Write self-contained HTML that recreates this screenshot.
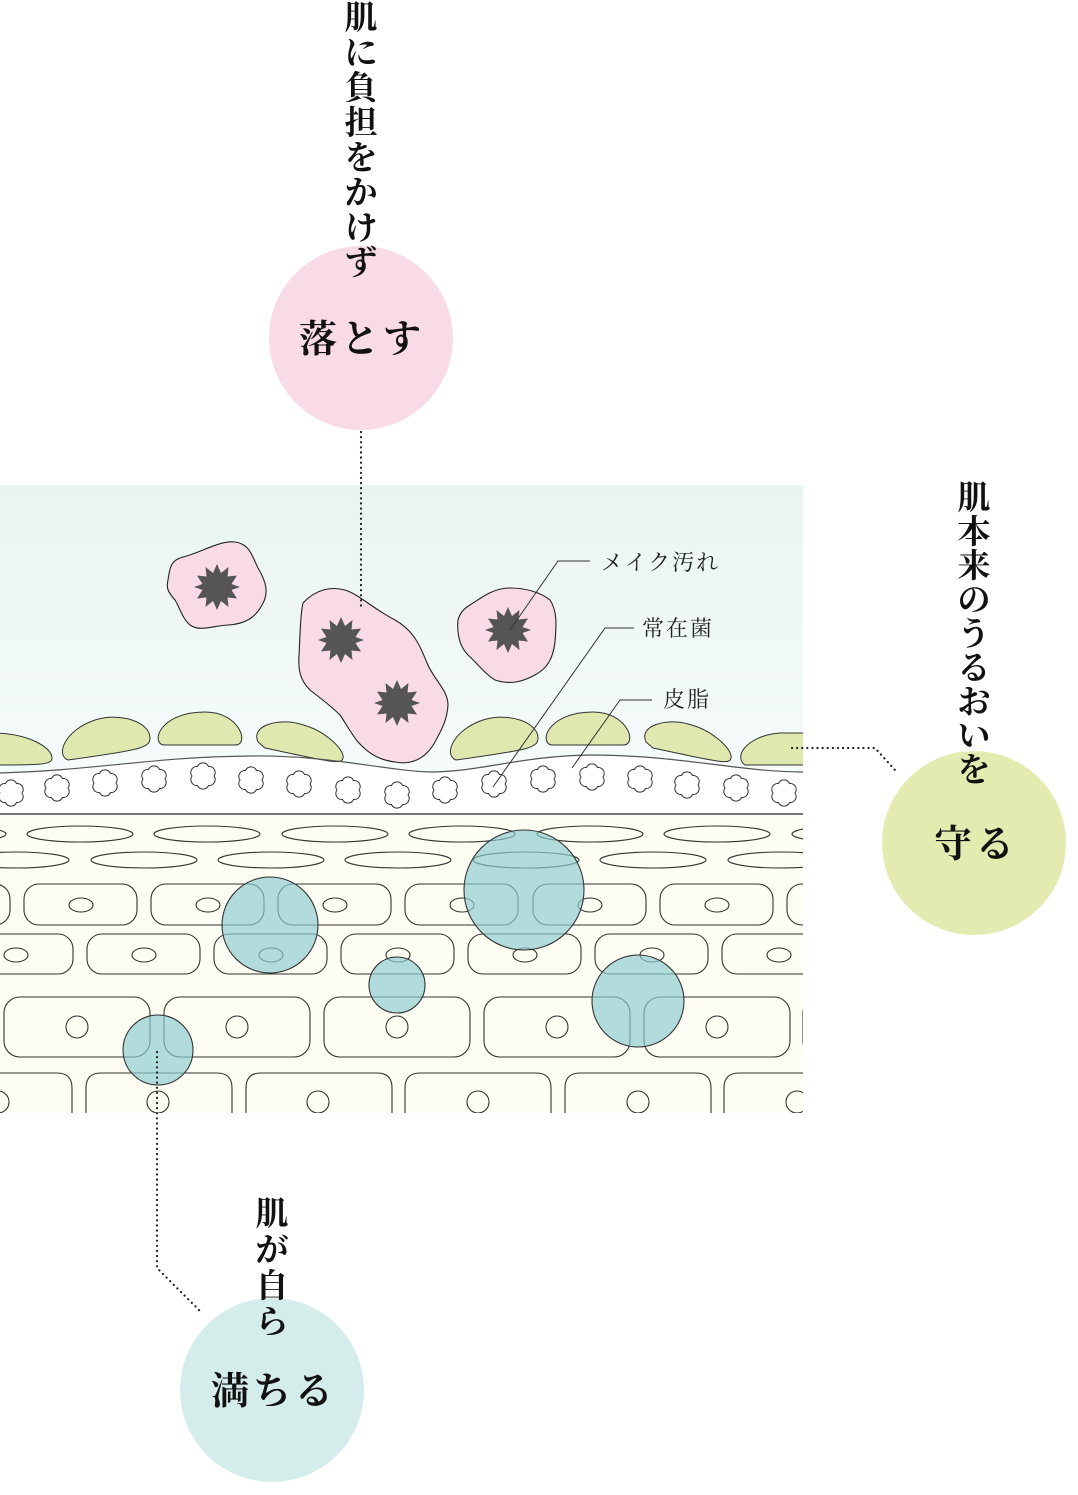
<!DOCTYPE html>
<html><head><meta charset="utf-8"><style>
html,body{margin:0;padding:0;background:#fff;}
svg{display:block;}
.v{font-family:"Liberation Serif","Noto Serif CJK JP","Noto Serif CJK SC",serif;font-weight:700;fill:#111;}
.l{font-family:"Liberation Serif","Noto Serif CJK JP","Noto Serif CJK SC",serif;fill:#222;font-size:22px;letter-spacing:2px;}
</style></head><body>
<svg width="1078" height="1495" viewBox="0 0 1078 1495" xmlns="http://www.w3.org/2000/svg">
<defs>
<linearGradient id="g" x1="0" y1="0" x2="0" y2="1">
<stop offset="0" stop-color="#e9f4f2"/><stop offset="1" stop-color="#f8fcfd"/>
</linearGradient>
<clipPath id="c"><rect x="0" y="485" width="803" height="628"/></clipPath>
<path id="b" d="M11,0 A6,6 0 0 1 5.5,9.5 A6,6 0 0 1 -5.5,9.5 A6,6 0 0 1 -11,0 A6,6 0 0 1 -5.5,-9.5 A6,6 0 0 1 5.5,-9.5 A6,6 0 0 1 11,0 Z" fill="#fff" stroke="#333" stroke-width="1"/>
<path id="s" d="M0,-23 L4,-14 L11.5,-20 L10.5,-10.5 L20,-11.5 L14.5,-3 L23,0 L14.5,3 L20,11.5 L10.5,10.5 L11.5,20 L4,14 L0,23 L-4,14 L-11.5,20 L-10.5,10.5 L-20,11.5 L-14.5,3 L-23,0 L-14.5,-3 L-20,-11.5 L-10.5,-10.5 L-11.5,-20 L-4,-14 Z" fill="#555"/>
</defs>
<g clip-path="url(#c)">
<rect x="0" y="485" width="803" height="330" fill="url(#g)"/>
<path d="M0,773 C100,770 150,757 250,756 C330,755 380,770 430,772 C480,772 520,756 590,755 C680,755 740,772 803,772 L803,814 L0,814 Z" fill="#fff"/>
<rect x="0" y="814" width="803" height="300" fill="#fefdf3"/>
<g fill="#dfe8ae" stroke="#333" stroke-width="1">
<path d="M-10,733 C30,733 52,748 52,758 C52,765 40,765 -10,765 Z"/>
<path d="M68,760 C55,755 65,730 95,720 C120,712 150,722 150,738 C150,748 140,750 68,760 Z"/>
<path d="M165,745 C150,745 158,712 205,712 C240,712 250,745 235,745 Z"/>
<path d="M258,742 C250,725 280,718 300,724 C325,730 345,750 343,758 C342,765 330,762 265,748 Z"/>
<path d="M456,760 C443,755 453,730 483,720 C508,712 538,722 538,738 C538,748 528,750 456,760 Z"/>
<path d="M553,745 C538,745 546,712 593,712 C628,712 638,745 623,745 Z"/>
<path d="M646,742 C638,725 668,718 688,724 C713,730 733,750 731,758 C730,765 718,762 653,748 Z"/>
<path d="M745,765 C732,755 750,735 780,733 L810,733 L810,765 Z"/>
</g>
<path d="M0,773 C100,770 150,757 250,756 C330,755 380,770 430,772 C480,772 520,756 590,755 C680,755 740,772 803,772" fill="none" stroke="#555" stroke-width="1.2"/>
<use href="#b" x="11" y="793"/><use href="#b" x="57" y="788"/><use href="#b" x="105" y="783"/><use href="#b" x="154" y="779"/><use href="#b" x="203" y="776"/><use href="#b" x="251" y="780"/><use href="#b" x="299" y="784"/><use href="#b" x="348" y="790"/><use href="#b" x="397" y="795"/><use href="#b" x="445" y="790"/><use href="#b" x="494" y="784"/><use href="#b" x="543" y="779"/><use href="#b" x="592" y="777"/><use href="#b" x="640" y="779"/><use href="#b" x="687" y="785"/><use href="#b" x="736" y="788"/><use href="#b" x="784" y="793"/>
<line x1="0" y1="814" x2="803" y2="814" stroke="#222" stroke-width="1.3"/>
<g fill="none" stroke="#333" stroke-width="1.1">
<ellipse cx="-47" cy="834" rx="53" ry="8"/><ellipse cx="80" cy="834" rx="53" ry="8"/><ellipse cx="207" cy="834" rx="53" ry="8"/><ellipse cx="335" cy="834" rx="53" ry="8"/><ellipse cx="462" cy="834" rx="53" ry="8"/><ellipse cx="590" cy="834" rx="53" ry="8"/><ellipse cx="717" cy="834" rx="53" ry="8"/><ellipse cx="845" cy="834" rx="53" ry="8"/>
<ellipse cx="16" cy="860" rx="53" ry="8"/><ellipse cx="144" cy="860" rx="53" ry="8"/><ellipse cx="271" cy="860" rx="53" ry="8"/><ellipse cx="398" cy="860" rx="53" ry="8"/><ellipse cx="526" cy="860" rx="53" ry="8"/><ellipse cx="653" cy="860" rx="53" ry="8"/><ellipse cx="781" cy="860" rx="53" ry="8"/>
<rect x="-103" y="884" width="113" height="41" rx="15"/><rect x="24" y="884" width="113" height="41" rx="15"/><rect x="151" y="884" width="113" height="41" rx="15"/><rect x="278" y="884" width="113" height="41" rx="15"/><rect x="405" y="884" width="113" height="41" rx="15"/><rect x="533" y="884" width="113" height="41" rx="15"/><rect x="660" y="884" width="113" height="41" rx="15"/><rect x="787" y="884" width="113" height="41" rx="15"/>
<ellipse cx="81" cy="905" rx="12" ry="7"/><ellipse cx="208" cy="905" rx="12" ry="7"/><ellipse cx="335" cy="905" rx="12" ry="7"/><ellipse cx="462" cy="905" rx="12" ry="7"/><ellipse cx="590" cy="905" rx="12" ry="7"/><ellipse cx="717" cy="905" rx="12" ry="7"/>
<rect x="-40" y="934" width="113" height="40" rx="15"/><rect x="87" y="934" width="113" height="40" rx="15"/><rect x="214" y="934" width="113" height="40" rx="15"/><rect x="341" y="934" width="113" height="40" rx="15"/><rect x="468" y="934" width="113" height="40" rx="15"/><rect x="595" y="934" width="113" height="40" rx="15"/><rect x="722" y="934" width="113" height="40" rx="15"/>
<ellipse cx="16" cy="955" rx="12" ry="7"/><ellipse cx="144" cy="955" rx="12" ry="7"/><ellipse cx="271" cy="955" rx="12" ry="7"/><ellipse cx="398" cy="955" rx="12" ry="7"/><ellipse cx="525" cy="955" rx="12" ry="7"/><ellipse cx="652" cy="955" rx="12" ry="7"/><ellipse cx="779" cy="955" rx="12" ry="7"/>
<rect x="4" y="997" width="146" height="60" rx="16"/><rect x="164" y="997" width="146" height="60" rx="16"/><rect x="324" y="997" width="146" height="60" rx="16"/><rect x="484" y="997" width="146" height="60" rx="16"/><rect x="644" y="997" width="146" height="60" rx="16"/><rect x="803" y="997" width="146" height="60" rx="16"/>
<circle cx="77" cy="1027" r="11"/><circle cx="237" cy="1027" r="11"/><circle cx="397" cy="1027" r="11"/><circle cx="557" cy="1027" r="11"/><circle cx="717" cy="1027" r="11"/>
<path d="M-74,1113 V1088 Q-74,1073 -59,1073 H57 Q72,1073 72,1088 V1113"/>
<path d="M86,1113 V1088 Q86,1073 101,1073 H217 Q232,1073 232,1088 V1113"/>
<path d="M246,1113 V1088 Q246,1073 261,1073 H377 Q392,1073 392,1088 V1113"/>
<path d="M405,1113 V1088 Q405,1073 420,1073 H536 Q551,1073 551,1088 V1113"/>
<path d="M565,1113 V1088 Q565,1073 580,1073 H696 Q711,1073 711,1088 V1113"/>
<path d="M724,1113 V1088 Q724,1073 739,1073 H855 Q870,1073 870,1088 V1113"/>
<circle cx="-2" cy="1102" r="11"/><circle cx="158" cy="1102" r="11"/><circle cx="318" cy="1102" r="11"/><circle cx="478" cy="1102" r="11"/><circle cx="638" cy="1102" r="11"/><circle cx="797" cy="1102" r="11"/>
</g>
<g fill="#8ccbd0" fill-opacity="0.68" stroke="#333" stroke-width="1.1">
<circle cx="270" cy="925" r="48"/><circle cx="524" cy="890" r="60"/><circle cx="397" cy="985" r="28"/><circle cx="638" cy="1001" r="46"/><circle cx="158" cy="1050" r="35"/>
</g>
<g fill="#f8dbe7" stroke="#222" stroke-width="1.1">
<path d="M168,580 C170,565 172,560 183,557 C200,553 220,540 235,542 C250,544 252,556 258,568 C265,580 270,592 262,605 C255,618 245,624 228,625 C212,626 200,632 190,625 C182,618 180,608 175,600 C168,592 166,588 168,580 Z"/>
<path d="M303,603 C315,590 330,586 345,590 C360,595 372,608 395,620 C413,630 420,645 427,663 C434,680 448,690 448,705 C447,722 440,732 435,742 C425,760 410,765 395,762 C380,760 370,755 358,742 C350,732 345,722 340,715 C330,705 320,698 310,690 C300,680 298,670 299,655 C300,640 300,615 303,603 Z"/>
<path d="M470,605 C485,595 495,588 510,588 C525,588 540,592 550,600 C558,612 556,628 555,642 C553,658 548,668 535,675 C522,682 510,685 495,680 C485,674 478,664 468,655 C458,645 457,630 458,620 C460,612 465,608 470,605 Z"/>
</g>
<use href="#s" x="217" y="587"/><use href="#s" x="341" y="640"/><use href="#s" x="397" y="703"/><use href="#s" x="508" y="630"/>
<g fill="none" stroke="#333" stroke-width="1">
<path d="M590,561 H558 L510,630"/>
<path d="M634,628 H605 L493,787"/>
<path d="M652,700 H620 L572,768"/>
</g>
</g>
<text class="l" x="601" y="570">メイク汚れ</text>
<text class="l" x="642" y="636">常在菌</text>
<text class="l" x="663" y="707">皮脂</text>
<g fill="none" stroke="#222" stroke-width="2.2" stroke-linecap="round" stroke-dasharray="0.1 5">
<path d="M361,432 V610"/>
<path d="M792,748 H875 L895,770"/>
<path d="M157,1052 V1268 L201,1312"/>
</g>
<circle cx="361" cy="338" r="92" fill="#f8dbe7"/>
<circle cx="974" cy="843" r="92" fill="#e3ebb0"/>
<circle cx="272" cy="1390" r="92" fill="#d4ecea"/>
<g class="v" font-size="33" text-anchor="middle">
<text x="361" y="29">肌</text><text x="361" y="64">に</text><text x="361" y="99">負</text><text x="361" y="134">担</text><text x="361" y="169">を</text><text x="361" y="204">か</text><text x="361" y="239">け</text><text x="361" y="274">ず</text>
<text x="974" y="509">肌</text><text x="974" y="543">本</text><text x="974" y="577">来</text><text x="974" y="611">の</text><text x="974" y="645">う</text><text x="974" y="679">る</text><text x="974" y="713">お</text><text x="974" y="747">い</text><text x="974" y="781">を</text>
<text x="272" y="1225">肌</text><text x="272" y="1261">が</text><text x="272" y="1297">自</text><text x="272" y="1333">ら</text>
</g>
<g class="v" font-size="38" text-anchor="middle">
<text x="362" y="352" letter-spacing="4">落とす</text>
<text x="976" y="857" letter-spacing="4">守る</text>
<text x="274" y="1404" letter-spacing="4">満ちる</text>
</g>
</svg>
</body></html>
